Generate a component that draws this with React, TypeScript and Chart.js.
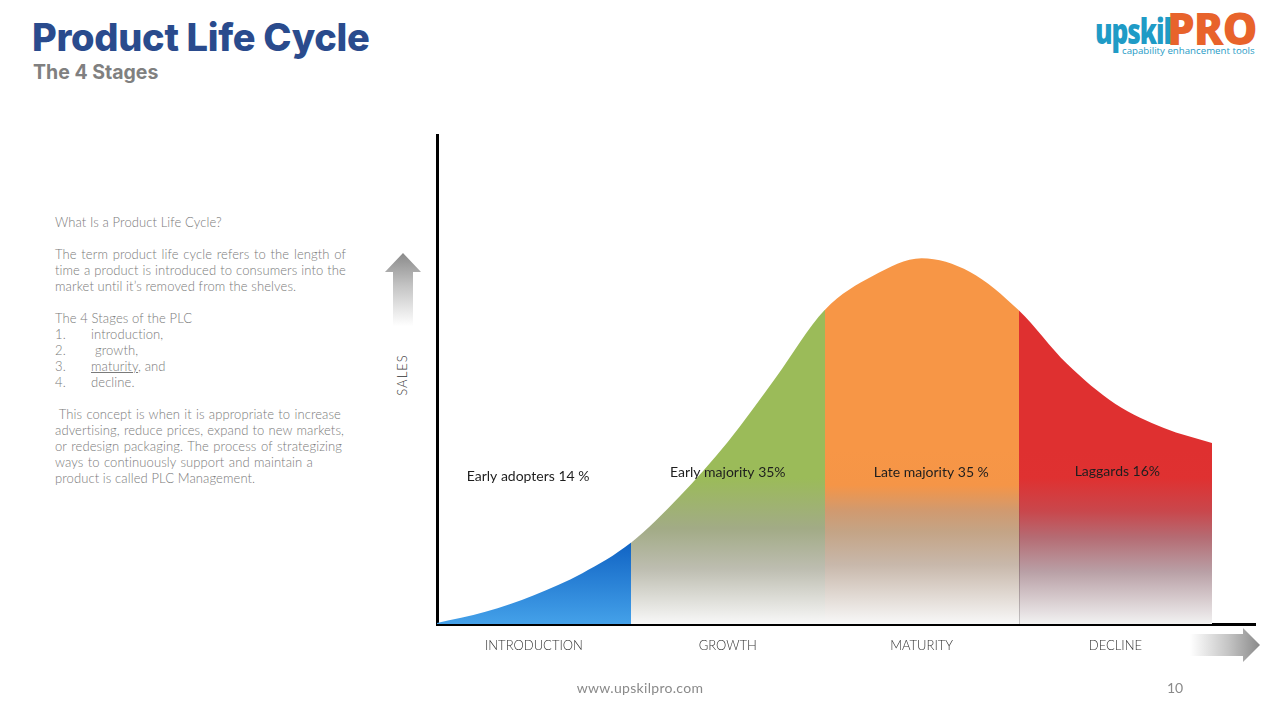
import React, { useEffect, useRef } from "react";
import { Chart, registerables } from "chart.js";

Chart.register(...registerables);

// ---- data ----
const stageNames = ["INTRODUCTION", "GROWTH", "MATURITY", "DECLINE"];
const stageEdges = [0, 1, 2, 3, 4];
const stageCenters = [0.5, 1.5, 2.5, 3.5];
const curveX = [0, 0.25, 0.5, 0.75, 1, 1.25, 1.5, 1.75, 2, 2.25, 2.5, 2.75, 3, 3.25, 3.5, 3.75, 4];
const curveY = [0.2, 2.5, 5.9, 10.4, 16.6, 26.0, 37.2, 50.5, 64.2, 71.2, 74.8, 72.0, 64.2, 53.2, 45.0, 40.1, 37.0];
const stageLabels = ["Early adopters 14 %", "Early majority 35%", "Late majority 35 %", "Laggards 16%"];
const stageLabelX = [0.47, 1.5, 2.55, 3.51];
const stageLabelY = [30.1, 30.9, 30.9, 31.1];

// ---- styles ----
const stageGradients: [number, string][][] = [
  [[0, "#0f62c3"], [1, "#44a1e9"]],
  [[0, "#9bbb59"], [0.16, "#9bbb59"], [0.45, "#a2ab86"], [0.68, "#bdbdb0"], [1, "#f8f8f8"]],
  [[0, "#f79646"], [0.2, "#f59547"], [0.35, "#d09a70"], [0.47, "#c4a486"], [0.66, "#c8b8ab"], [1, "#f8f8f8"]],
  [[0, "#df3030"], [0.16, "#df3131"], [0.35, "#c9474c"], [0.5, "#b56b73"], [0.7, "#b9a0a6"], [1, "#f2f2f2"]],
];

const stageFillPlugin = {
  id: "stageFill",
  beforeDatasetsDraw(chart: any) {
    const meta = chart.getDatasetMeta(0);
    const line: any = meta.dataset;
    if (!line) return;
    const { ctx, chartArea } = chart;
    const xs = chart.scales.x;
    const ys = chart.scales.y;
    line.updateControlPoints(chartArea, "x");
    const pts = line.points;
    const baseY = ys.getPixelForValue(0);
    for (let i = 0; i < stageEdges.length - 1; i++) {
      const x0 = Math.round(xs.getPixelForValue(stageEdges[i]));
      const x1 = Math.round(xs.getPixelForValue(stageEdges[i + 1]));
      ctx.save();
      ctx.beginPath();
      ctx.rect(i === 0 ? x0 - 3 : x0, chartArea.top - 10, x1 - x0 + (i === 0 ? 3 : 0), baseY - chartArea.top + 10);
      ctx.clip();
      ctx.beginPath();
      line.path(ctx);
      ctx.lineTo(pts[pts.length - 1].x, baseY);
      ctx.lineTo(pts[0].x, baseY);
      ctx.closePath();
      const gTop = i === 0 ? ys.getPixelForValue(17) : ys.getPixelForValue(35.5);
      const g = ctx.createLinearGradient(0, gTop, 0, baseY);
      stageGradients[i].forEach(([o, c]) => g.addColorStop(o, c));
      ctx.fillStyle = g;
      ctx.fill();
      ctx.restore();
    }
    // faint divider between maturity and decline
    const xd = Math.round(xs.getPixelForValue(stageEdges[3])) + 0.5;
    const gd = ctx.createLinearGradient(0, ys.getPixelForValue(30), 0, baseY);
    gd.addColorStop(0, "rgba(90,60,60,0)");
    gd.addColorStop(0.5, "rgba(90,60,60,0.35)");
    gd.addColorStop(1, "rgba(90,90,90,0.3)");
    ctx.save();
    ctx.strokeStyle = gd;
    ctx.lineWidth = 1;
    ctx.beginPath();
    ctx.moveTo(xd, ys.getPixelForValue(30));
    ctx.lineTo(xd, baseY);
    ctx.stroke();
    ctx.restore();
  },
  afterDatasetsDraw(chart: any) {
    const { ctx } = chart;
    const xs = chart.scales.x;
    const ys = chart.scales.y;
    ctx.save();
    ctx.font = "14px Lato";
    ctx.fillStyle = "#1e1e1e";
    ctx.textAlign = "center";
    ctx.textBaseline = "middle";
    stageLabels.forEach((t, i) => {
      ctx.fillText(t, xs.getPixelForValue(stageLabelX[i]), ys.getPixelForValue(stageLabelY[i]));
    });
    ctx.restore();
  },
};

function PlcChart() {
  const ref = useRef<HTMLCanvasElement>(null);
  useEffect(() => {
    if (!ref.current) return;
    const chart = new Chart(ref.current, {
      type: "line",
      data: {
        datasets: [
          {
            label: "Sales",
            data: curveX.map((x, i) => ({ x, y: curveY[i] })),
            borderColor: "rgba(0,0,0,0)",
            borderWidth: 0,
            pointRadius: 0,
            fill: false,
            cubicInterpolationMode: "monotone",
          },
        ],
      },
      options: {
        responsive: false,
        animation: false,
        layout: { padding: { left: 0, right: 25, top: 15, bottom: 0 } },
        plugins: { legend: { display: false }, tooltip: { enabled: false } },
        scales: {
          x: {
            type: "linear",
            min: 0,
            max: 4.22,
            bounds: "data",
            grid: { display: false },
            border: { display: true, color: "#000", width: 3 },
            afterBuildTicks: (s: any) => {
              s.ticks = stageCenters.map((v) => ({ value: v }));
            },
            afterFit: (s: any) => {
              s.height = 56;
            },
            ticks: {
              autoSkip: false,
              maxRotation: 0,
              padding: 6,
              color: "#333",
              font: { family: "Lato", size: 13, weight: "300" as any },
              callback: (v: any) => stageNames[stageCenters.indexOf(Number(v))] ?? "",
            },
          },
          y: {
            min: 0,
            max: 100,
            grid: { display: false },
            border: { display: true, color: "#000", width: 3 },
            ticks: { display: false },
            afterFit: (s: any) => {
              s.width = 57;
            },
          },
        },
      },
      plugins: [stageFillPlugin],
    } as any);
    return () => chart.destroy();
  }, []);
  return <canvas ref={ref} width={900} height={560} style={{ width: 900, height: 560, display: "block" }} />;
}

const textStyle: React.CSSProperties = {
  fontFamily: "Lato, sans-serif",
  fontWeight: 300,
  fontSize: 13,
  letterSpacing: 0.1,
  lineHeight: "16px",
  color: "#7a7a7a",
  whiteSpace: "nowrap",
};

function J({ w, children }: { w: number; children: React.ReactNode }) {
  return (
    <div style={{ width: w, textAlign: "justify", textAlignLast: "justify", whiteSpace: "normal", height: 16, overflow: "visible" }}>
      {children}
    </div>
  );
}

export default function App() {
  return (
    <div
      style={{
        position: "fixed",
        left: 0,
        top: 0,
        width: 1280,
        height: 720,
        background: "#fff",
        overflow: "hidden",
      }}
    >
      <div
        style={{
          position: "absolute",
          left: 32,
          top: 13,
          fontFamily: "Inter, 'Open Sans', sans-serif",
          fontWeight: 800,
          fontSize: 38,
          lineHeight: "48px",
          color: "#2a4b8d",
          letterSpacing: -0.3,
          whiteSpace: "nowrap",
        }}
      >
        Product Life Cycle
      </div>
      <div
        style={{
          position: "absolute",
          left: 33,
          top: 60,
          fontFamily: "Inter, 'Open Sans', sans-serif",
          fontWeight: 700,
          fontSize: 19.5,
          lineHeight: "24px",
          color: "#808080",
          whiteSpace: "nowrap",
        }}
      >
        The 4 Stages
      </div>

      {/* logo */}
      <div
        style={{
          position: "absolute",
          left: 1095,
          top: 13,
          fontFamily: "'Open Sans', sans-serif",
          fontWeight: 800,
          fontSize: 36,
          lineHeight: "36px",
          color: "#1f9bc6",
          letterSpacing: -1.5,
          transform: "scaleX(0.73)",
          transformOrigin: "left center",
          whiteSpace: "nowrap",
        }}
      >
        upskil
      </div>
      <div
        style={{
          position: "absolute",
          left: 1167,
          top: 6,
          fontFamily: "'Open Sans', sans-serif",
          fontWeight: 800,
          fontSize: 44,
          lineHeight: "44px",
          color: "#e8632b",
          letterSpacing: -1,
          whiteSpace: "nowrap",
        }}
      >
        PRO
      </div>
      <div
        style={{
          position: "absolute",
          left: 1122,
          top: 45,
          fontFamily: "'Open Sans', sans-serif",
          fontSize: 9.7,
          lineHeight: "12px",
          color: "#1f9bc6",
          whiteSpace: "nowrap",
        }}
      >
        capability enhancement tools
      </div>

      {/* left text */}
      <div style={{ position: "absolute", left: 55, top: 214, ...textStyle }}>
        <div>What Is a Product Life Cycle?</div>
        <div>&nbsp;</div>
        <J w={291}>The term product life cycle refers to the length of</J>
        <J w={291}>time a product is introduced to consumers into the</J>
        <div>market until it’s removed from the shelves.</div>
        <div>&nbsp;</div>
        <div>The 4 Stages of the PLC</div>
        <div>
          <span style={{ display: "inline-block", width: 36 }}>1.</span>introduction,
        </div>
        <div>
          <span style={{ display: "inline-block", width: 40 }}>2.</span>growth,
        </div>
        <div>
          <span style={{ display: "inline-block", width: 36 }}>3.</span>
          <span style={{ textDecoration: "underline" }}>maturity</span>, and
        </div>
        <div>
          <span style={{ display: "inline-block", width: 36 }}>4.</span>decline.
        </div>
        <div>&nbsp;</div>
        <J w={286}>&nbsp;This concept is when it is appropriate to increase</J>
        <J w={289}>advertising, reduce prices, expand to new markets,</J>
        <J w={287}>or redesign packaging. The process of strategizing</J>
        <J w={258}>ways to continuously support and maintain a</J>
        <div>product is called PLC Management.</div>
      </div>

      {/* up arrow */}
      <svg style={{ position: "absolute", left: 384, top: 252 }} width={38} height={76}>
        <defs>
          <linearGradient id="upg" x1="0" y1="0" x2="0" y2="1">
            <stop offset="0" stopColor="#8a8a8a" />
            <stop offset="0.45" stopColor="#c4c4c4" />
            <stop offset="1" stopColor="#ffffff" />
          </linearGradient>
        </defs>
        <polygon points="19,1 37,20 29,20 29,74 9,74 9,20 1,20" fill="url(#upg)" />
      </svg>
      <div
        style={{
          position: "absolute",
          left: 402,
          top: 375,
          transform: "translate(-50%, -50%) rotate(-90deg)",
          fontFamily: "Lato, sans-serif",
          fontWeight: 300,
          fontSize: 13,
          letterSpacing: 1,
          color: "#333",
          whiteSpace: "nowrap",
        }}
      >
        SALES
      </div>

      {/* chart */}
      <div style={{ position: "absolute", left: 380, top: 120, width: 900, height: 560 }}>
        <PlcChart />
      </div>

      {/* right arrow */}
      <svg style={{ position: "absolute", left: 1188, top: 627 }} width={74} height={37}>
        <defs>
          <linearGradient id="rg" x1="0" y1="0" x2="1" y2="0">
            <stop offset="0" stopColor="#ffffff" />
            <stop offset="0.55" stopColor="#c4c4c4" />
            <stop offset="1" stopColor="#8a8a8a" />
          </linearGradient>
        </defs>
        <polygon points="2,7 55,7 55,1 72,18 55,35 55,29 2,29" fill="url(#rg)" />
      </svg>

      {/* footer */}
      <div
        style={{
          position: "absolute",
          left: 640,
          top: 687,
          transform: "translate(-50%, -50%)",
          fontFamily: "Lato, sans-serif",
          fontSize: 14,
          letterSpacing: 0.3,
          color: "#8a8a8a",
          whiteSpace: "nowrap",
        }}
      >
        www.upskilpro.com
      </div>
      <div
        style={{
          position: "absolute",
          left: 1175,
          top: 687,
          transform: "translate(-50%, -50%)",
          fontFamily: "Lato, sans-serif",
          fontSize: 14,
          color: "#8a8a8a",
        }}
      >
        10
      </div>
    </div>
  );
}
